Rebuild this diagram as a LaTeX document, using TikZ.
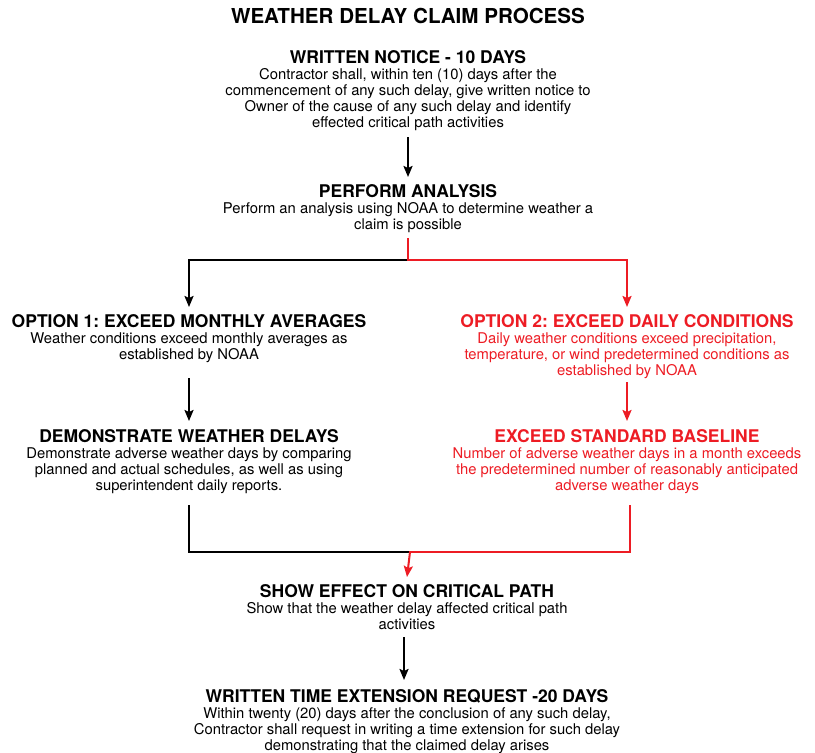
\documentclass[tikz,border=0pt]{standalone}
\usepackage{fontspec}
\setmainfont{TeX Gyre Heros}
\usetikzlibrary{arrows.meta}
\definecolor{rd}{HTML}{ED1C24}
\newcommand{\hd}[1]{{\fontsize{17.5}{16}\selectfont\bfseries #1}}
\begin{document}
\frenchspacing
\begin{tikzpicture}[x=1pt,y=-1pt,
  blk/.style={align=center, inner sep=0pt, outer sep=0pt, anchor=north, font=\fontsize{14.8}{16}\selectfont},
  redblk/.style={blk, text=rd},
  conn/.style={line width=2pt, line cap=rect},
  arr/.style={conn, line cap=butt, -{Stealth[length=11pt,width=9pt,inset=2pt]}}]
\useasboundingbox (0,0) rectangle (815,753);
\node[anchor=base, inner sep=0pt, font=\fontsize{20.6}{24}\selectfont\bfseries] (title) at (408,23) {WEATHER DELAY CLAIM PROCESS};
\node[blk] (wn) at (408,51) {\hd{WRITTEN NOTICE - 10 DAYS}\\Contractor shall, within ten (10) days after the\\commencement of any such delay, give written notice to\\Owner of the cause of any such delay and identify\\effected critical path activities};
\node[blk] (pa) at (408,185) {\hd{PERFORM ANALYSIS}\\Perform an analysis using NOAA to determine weather a\\claim is possible};
\node[blk] (o1) at (189,315) {\hd{OPTION 1: EXCEED MONTHLY AVERAGES}\\Weather conditions exceed monthly averages as\\established by NOAA};
\node[redblk] (o2) at (627,315) {\hd{OPTION 2: EXCEED DAILY CONDITIONS}\\Daily weather conditions exceed precipitation,\\temperature, or wind predetermined conditions as\\established by NOAA};
\node[blk] (dw) at (189,430) {\hd{DEMONSTRATE WEATHER DELAYS}\\Demonstrate adverse weather days by comparing\\planned and actual schedules, as well as using\\superintendent daily reports.};
\node[redblk] (esb) at (627,430) {\hd{EXCEED STANDARD BASELINE}\\Number of adverse weather days in a month exceeds\\the predetermined number of reasonably anticipated\\adverse weather days};
\node[blk] (se) at (407,585) {\hd{SHOW EFFECT ON CRITICAL PATH}\\Show that the weather delay affected critical path\\activities};
\node[blk] (wt) at (407,690) {\hd{WRITTEN TIME EXTENSION REQUEST -20 DAYS}\\Within twenty (20) days after the conclusion of any such delay,\\Contractor shall request in writing a time extension for such delay\\demonstrating that the claimed delay arises};
\coordinate (split) at (408,260);
\coordinate (merge) at (410,552);
\draw[arr] ([yshift=-6pt]wn.south) -- ([yshift=8pt]pa.north);
\draw[arr] (split) -| ([yshift=8pt]o1.north);
\draw[arr, rd] ([yshift=-5pt]pa.south) |- (split) -| ([yshift=8pt]o2.north);
\draw[arr] ([yshift=-15pt]o1.south) -- ([yshift=9pt]dw.north);
\draw[arr, rd] ([yshift=-3pt]o2.south) -- ([yshift=9pt]esb.north);
\draw[conn] ([yshift=-12pt]dw.south) |- (merge);
\draw[conn, rd] ([xshift=3pt,yshift=-12pt]esb.south) |- (merge);
\draw[arr, rd] (merge) -- ([yshift=8pt]se.north);
\draw[arr] ([xshift=-3pt,yshift=-7pt]se.south) -- ([xshift=-3pt,yshift=10pt]wt.north);
\end{tikzpicture}
\end{document}
